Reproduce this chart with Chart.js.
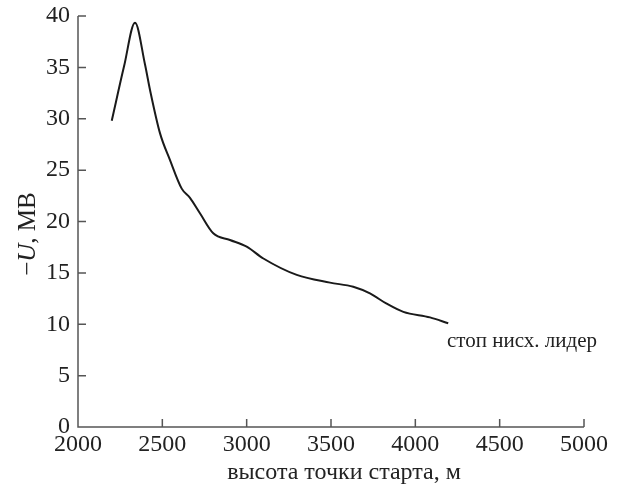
<!DOCTYPE html>
<html><head><meta charset="utf-8">
<script src="https://cdn.jsdelivr.net/npm/chart.js@4"></script>
<style>html,body{margin:0;padding:0;background:#fff}#w{width:624px;height:486px}</style>
</head><body><div id="w"><canvas id="c"></canvas></div>
<script>
const heights = [2200, 2273, 2338, 2397, 2427, 2486, 2545, 2615, 2664, 2723, 2802, 2901, 3000, 3099, 3297, 3494, 3632, 3731, 3830, 3929, 4087, 4195];
const voltages = [29.8, 35.1, 39.35, 35.3, 32.8, 28.6, 26.0, 23.2, 22.3, 20.8, 18.85, 18.2, 17.55, 16.4, 14.8, 14.05, 13.65, 13.0, 12.0, 11.2, 10.67, 10.1];
const xTicks = [2000, 2500, 3000, 3500, 4000, 4500, 5000];
const yTicks = [0, 5, 10, 15, 20, 25, 30, 35, 40];
const annotation = {x: 4188, y: 8.3, text: 'стоп нисх. лидер'};
const xTitle = 'высота точки старта, м';

const FONT = "'Liberation Serif', 'Times New Roman', serif";
const AX = '#555';

const inward = {
  id: 'inward',
  afterDraw(chart) {
    const ctx = chart.ctx, xs = chart.scales.x, ys = chart.scales.y;
    const a = chart.chartArea;
    ctx.save();
    ctx.strokeStyle = AX; ctx.lineWidth = 1.5;
    ctx.beginPath();
    ctx.moveTo(a.left, a.top); ctx.lineTo(a.left, a.bottom); ctx.lineTo(a.right, a.bottom);
    xTicks.forEach(v => { const p = xs.getPixelForValue(v); if (v !== 2000) { ctx.moveTo(p, a.bottom); ctx.lineTo(p, a.bottom - 8); } });
    yTicks.forEach(v => { const p = ys.getPixelForValue(v); if (v !== 0) { ctx.moveTo(a.left, p); ctx.lineTo(a.left + 8, p); } });
    ctx.stroke();
    ctx.fillStyle = '#222';
    ctx.font = '21px ' + FONT;
    ctx.textBaseline = 'middle'; ctx.textAlign = 'left';
    ctx.fillText(annotation.text, xs.getPixelForValue(annotation.x), ys.getPixelForValue(annotation.y));
    ctx.font = '24px ' + FONT;
    ctx.textAlign = 'center'; ctx.textBaseline = 'alphabetic';
    ctx.fillText(xTitle, 344, 479);
    ctx.textAlign = 'left';
    ctx.translate(28, 234);
    ctx.rotate(-Math.PI / 2);
    ctx.textBaseline = 'middle';
    const F = '25px ' + FONT, FI = 'italic 25px ' + FONT;
    const p1 = '−', p2 = 'U', p3 = ', МВ';
    ctx.font = F; const w1 = ctx.measureText(p1).width;
    ctx.font = FI; const w2 = ctx.measureText(p2).width;
    ctx.font = F; const w3 = ctx.measureText(p3).width;
    let x0 = -(w1 + w2 + w3) / 2;
    ctx.fillText(p1, x0, 0);
    ctx.font = FI; ctx.fillText(p2, x0 + w1, 0);
    ctx.font = F; ctx.fillText(p3, x0 + w1 + w2, 0);
    ctx.restore();
  }
};

new Chart(document.getElementById('c'), {
  type: 'line',
  data: { datasets: [{
    data: heights.map((h, i) => ({x: h, y: voltages[i]})),
    borderColor: '#1a1a1a', borderWidth: 2, pointRadius: 0,
    cubicInterpolationMode: 'monotone', fill: false
  }]},
  options: {
    responsive: true, maintainAspectRatio: false, animation: false,
    layout: { padding: { top: 16, right: 40, left: 0, bottom: 0 } },
    plugins: { legend: { display: false }, tooltip: { enabled: false } },
    scales: {
      x: {
        type: 'linear', min: 2000, max: 5000,
        afterBuildTicks: s => { s.ticks = xTicks.map(v => ({value: v})); },
        afterFit: s => { s.height = 59; s.paddingLeft = 0; s.paddingRight = 0; },
        grid: { display: false, drawTicks: false },
        border: { display: false },
        ticks: { color: '#222', font: { family: FONT, size: 24 }, padding: 3, maxRotation: 0, autoSkip: false, callback: v => String(v) }
      },
      y: {
        min: 0, max: 40,
        afterBuildTicks: s => { s.ticks = yTicks.map(v => ({value: v})); },
        afterFit: s => { s.width = 78; s.paddingTop = 0; s.paddingBottom = 0; },
        grid: { display: false, drawTicks: false },
        border: { display: false },
        ticks: { color: '#222', font: { family: FONT, size: 24 }, padding: 8, autoSkip: false }
      }
    }
  },
  plugins: [inward]
});
</script></body></html>
